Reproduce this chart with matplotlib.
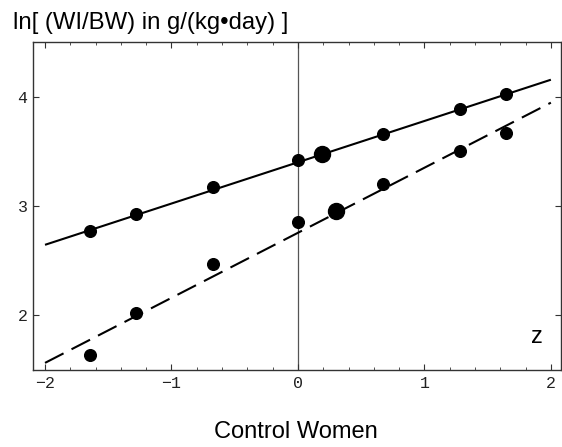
import matplotlib
matplotlib.use("Agg")
import matplotlib.pyplot as plt
from matplotlib.ticker import MultipleLocator

# Data
z_upper = [-1.645, -1.28, -0.674, 0.0, 0.674, 1.28, 1.645]
y_upper = [2.77, 2.925, 3.175, 3.425, 3.66, 3.885, 4.02]
z_upper_big = [0.19]
y_upper_big = [3.475]
fit_upper_x = [-2.0, 2.0]
fit_upper_y = [2.645, 4.155]

z_lower = [-1.645, -1.28, -0.674, 0.0, 0.674, 1.28, 1.645]
y_lower = [1.64, 2.02, 2.465, 2.857, 3.2, 3.505, 3.67]
z_lower_big = [0.30]
y_lower_big = [2.955]
fit_lower_x = [-2.0, 2.0]
fit_lower_y = [1.565, 3.945]

x_ticks = [-2, -1, 0, 1, 2]
x_ticklabels = ["\u22122", "\u22121", "0", "1", "2"]
y_ticks = [2, 3, 4]
y_ticklabels = ["2", "3", "4"]

fig = plt.figure(figsize=(5.62, 4.47), dpi=100)
ax = fig.add_axes([33/562, 1-370/447, (561-33)/562, (370-42)/447])

ax.set_xlim(-2.095, 2.08)
ax.set_ylim(1.5, 4.5)

ax.axvline(0, color="#555555", lw=0.9, zorder=1)

ax.plot(fit_upper_x, fit_upper_y, color="black", lw=1.5, solid_capstyle="butt", zorder=2)
ax.plot(fit_lower_x, fit_lower_y, color="black", lw=1.5, dashes=(10, 4.3), dash_capstyle="butt", zorder=2)

ax.plot(z_upper, y_upper, "o", color="black", ms=8.4, zorder=3)
ax.plot(z_lower, y_lower, "o", color="black", ms=8.4, zorder=3)
ax.plot(z_upper_big, y_upper_big, "o", color="black", ms=11.5, zorder=3)
ax.plot(z_lower_big, y_lower_big, "o", color="black", ms=11.5, zorder=3)

for s in ax.spines.values():
    s.set_color("#333333")
    s.set_linewidth(1.0)

ax.set_xticks(x_ticks)
ax.set_xticklabels(x_ticklabels, family="Liberation Mono", fontsize=12)
ax.set_yticks(y_ticks)
ax.set_yticklabels(y_ticklabels, family="Liberation Mono", fontsize=12)
ax.xaxis.set_minor_locator(MultipleLocator(0.2))
ax.tick_params(which="both", direction="in", top=True, right=True, colors="#333333", labelcolor="#222222")
ax.tick_params(which="major", length=4.5, width=0.8, pad=4)
ax.tick_params(which="minor", length=2.5, width=0.6)

ax.text(537/562, 1-343/447, "z", transform=fig.transFigure, fontsize=17, family="Liberation Sans",
        ha="center", va="baseline")

fig.text(13/562, 1-28.5/447, "ln[ (WI/BW) in g/(kg\u2022day) ]", fontsize=17.2, family="Liberation Sans",
         ha="left", va="baseline")
fig.text(296/562, 1-438/447, "Control Women", fontsize=17, family="Liberation Sans",
         ha="center", va="baseline")

fig.savefig("out.png", dpi=100)
